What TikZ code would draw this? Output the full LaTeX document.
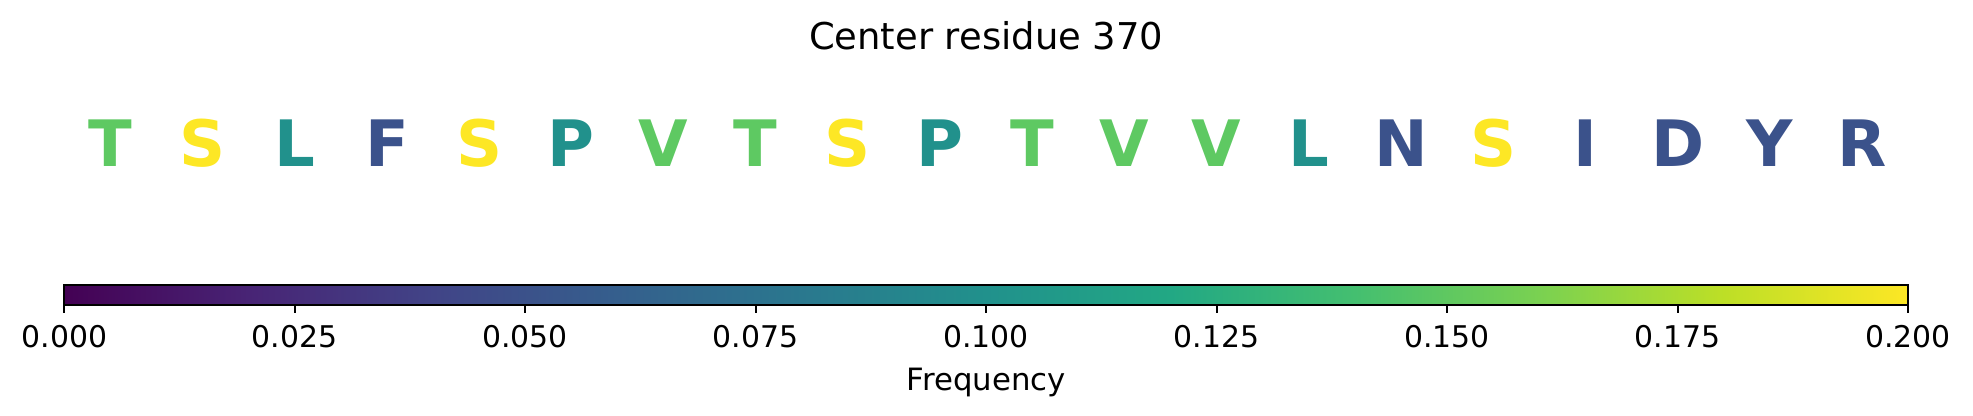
\documentclass[tikz,border=0pt]{standalone}
\usepackage{fontspec}
\setmainfont{DejaVu Sans}
\usetikzlibrary{calc,positioning}
\definecolor{vgreen}{HTML}{5EC962}
\definecolor{vyellow}{HTML}{FDE725}
\definecolor{vteal}{HTML}{21918C}
\definecolor{vblue}{HTML}{3B528B}
\definecolor{v0}{HTML}{440154}
\definecolor{v1}{HTML}{482475}
\definecolor{v2}{HTML}{414487}
\definecolor{v3}{HTML}{355F8D}
\definecolor{v4}{HTML}{2A788E}
\definecolor{v5}{HTML}{21918C}
\definecolor{v6}{HTML}{22A884}
\definecolor{v7}{HTML}{44BF70}
\definecolor{v8}{HTML}{7AD151}
\definecolor{v9}{HTML}{BDDF26}
\definecolor{v10}{HTML}{FDE725}
\pgfdeclarehorizontalshading{viridis}{100bp}{color(0bp)=(v0); color(25bp)=(v0);
  color(30bp)=(v1); color(35bp)=(v2); color(40bp)=(v3); color(45bp)=(v4);
  color(50bp)=(v5); color(55bp)=(v6); color(60bp)=(v7); color(65bp)=(v8);
  color(70bp)=(v9); color(75bp)=(v10); color(100bp)=(v10)}
\tikzset{
  res/.style={font=\fontsize{18.2}{20}\selectfont\bfseries,anchor=base,inner sep=0pt},
  ticklab/.style={font=\fontsize{8.5}{10}\selectfont,anchor=base,inner sep=0pt},
  frame/.style={line width=0.6pt}
}

\begin{document}
\begin{tikzpicture}[x=0.01cm,y=0.01cm]
    \useasboundingbox (0,0) rectangle (1973,416);

    \coordinate (A) at (64.3,111);
    \coordinate (A2) at (1908,131.3);

    % colour bar
    \shade[shading=viridis] (A) rectangle (A2);
    \draw[frame] (A) rectangle (A2);

    \foreach \v [count=\i from 0] in {0.000,0.025,0.050,0.075,0.100,0.125,0.150,0.175,0.200} {
      \coordinate (k\i) at ($(A)!\i/8!(A2 |- A)$);
      \coordinate (kk\i) at ($(k\i)+(0,-8)$);
      \draw[frame] (k\i) -- (kk\i);
      \node[ticklab] (t\i) at ($(k\i)+(0,-42.3)$) {\v};
    }

    \node[ticklab,font=\fontsize{8.75}{10}\selectfont] (freq) at (986.2,25.7) {Frequency};

    % residues
    \foreach \c/\col [count=\i from 0] in {T/vgreen,S/vyellow,L/vteal,F/vblue,S/vyellow,
        P/vteal,V/vgreen,T/vgreen,S/vyellow,P/vteal,T/vgreen,V/vgreen,V/vgreen,
        L/vteal,N/vblue,S/vyellow,I/vblue,D/vblue,Y/vblue,R/vblue} {
      \node[res,text=\col] (r\i) at ({64.3+(\i+0.5)*92.185},249.3) {\c};
    }

    \node[anchor=base,inner sep=0pt,font=\fontsize{10.5}{12}\selectfont] (title) at (986.2,366.7) {Center residue 370};
\end{tikzpicture}
\end{document}
